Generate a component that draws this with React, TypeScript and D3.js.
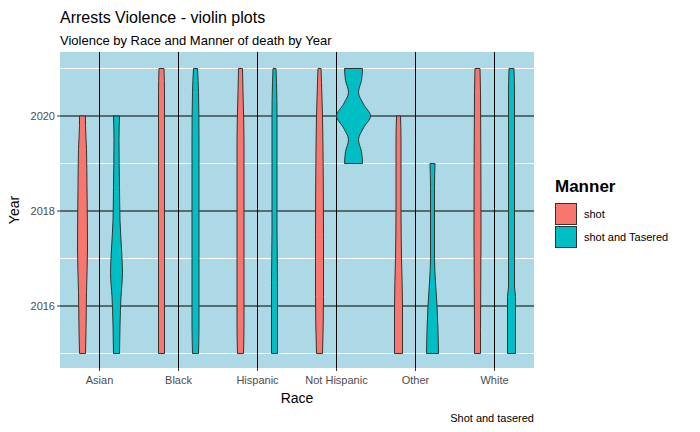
import * as d3 from 'd3';

const races = ['Asian', 'Black', 'Hispanic', 'Not Hispanic', 'Other', 'White'];
const manners = ['shot', 'shot and Tasered'];
const colors = ['#F8766D', '#00BFC4'];
const yearTicks = [2016, 2018, 2020];
const minorYears = [2015, 2017, 2019, 2021];

// [year, relative density] per race, per manner
const shotProfiles: [number, number][][] = [
  [[2015, 3], [2015.5, 3.5], [2016.3, 4], [2017.2, 5], [2018.5, 4.5], [2019.3, 4], [2019.8, 3], [2020, 3]],
  [[2015, 3], [2020.5, 3], [2021, 2.5]],
  [[2015, 3], [2015.6, 3.5], [2017, 3.5], [2019.5, 3.5], [2020.5, 2.5], [2021, 2]],
  [[2015, 3], [2016.2, 4], [2017.5, 4], [2019.3, 3.5], [2020, 3], [2020.7, 2], [2021, 1.5]],
  [[2015, 4], [2016, 4], [2017, 3], [2018, 2.5], [2019.5, 2.5], [2020, 2]],
  [[2015, 3], [2015.5, 3], [2017.5, 3.5], [2020.5, 3], [2021, 2.5]],
];
const taserProfiles: [number, number][][] = [
  [[2015, 3], [2015.6, 3.5], [2016.2, 4.5], [2016.7, 6], [2017.2, 5], [2017.8, 3.5], [2018.5, 3], [2019.5, 2.5], [2020, 3]],
  [[2015, 3], [2015.6, 3.5], [2017, 3.5], [2019.5, 3.5], [2020.5, 3], [2021, 2]],
  [[2015, 3], [2016.5, 3], [2017.6, 2.5], [2020, 2.5], [2020.7, 2], [2021, 1.5]],
  [[2019, 9], [2019.25, 8], [2019.5, 5], [2019.75, 10], [2020, 17], [2020.25, 10], [2020.5, 5], [2020.75, 8], [2021, 9]],
  [[2015, 6], [2015.5, 5.5], [2016, 4.5], [2016.5, 3], [2017, 2], [2018.5, 2], [2019, 2.5]],
  [[2015, 4], [2016.2, 4], [2016.4, 3], [2020.5, 3], [2021, 2.5]],
];

const W = 700, H = 432;
const m = { left: 60, right: 534, top: 52, bottom: 368 };

export default function App() {
  const x = d3.scaleBand().domain(races).range([m.left, m.right]).padding(0);
  const y = d3.scaleLinear().domain([2015.3, 2020.7]).range([339.25, 82.75]);
  const w = d3.scaleLinear().domain([0, 17]).range([0, 17]);
  const dodge = 17;

  const violin = (prof: [number, number][], cx: number) => {
    const area = d3.area<[number, number]>()
      .y(d => y(d[0]))
      .x0(d => cx - w(d[1]))
      .x1(d => cx + w(d[1]))
      .curve(d3.curveMonotoneY);
    return area(prof) || '';
  };

  return (
    <svg width={W} height={H} style={{ position: 'absolute', left: 0, top: 0, fontFamily: 'Arial, Liberation Sans, sans-serif' }}>
      <rect width={W} height={H} fill="white" />
      <rect x={m.left} y={m.top} width={m.right - m.left} height={m.bottom - m.top} fill="lightblue" />
      {minorYears.map(v => <line key={v} x1={m.left} x2={m.right} y1={y(v)} y2={y(v)} stroke="white" strokeWidth={1} />)}
      {yearTicks.map(v => <line key={v} x1={m.left} x2={m.right} y1={y(v)} y2={y(v)} stroke="black" strokeWidth={1} />)}
      {races.map(r => {
        const cx = x(r)! + x.bandwidth() / 2;
        return <line key={r} x1={cx} x2={cx} y1={m.top} y2={m.bottom} stroke="black" strokeWidth={1} />;
      })}
      {races.map((r, i) => {
        const cx = x(r)! + x.bandwidth() / 2;
        return (
          <g key={r}>
            <path d={violin(shotProfiles[i], cx - dodge)} fill={colors[0]} stroke="#333" strokeWidth={1} />
            <path d={violin(taserProfiles[i], cx + dodge)} fill={colors[1]} stroke="#333" strokeWidth={1} />
          </g>
        );
      })}
      {yearTicks.map(v => (
        <g key={v}>
          <line x1={m.left - 3} x2={m.left} y1={y(v)} y2={y(v)} stroke="#333" />
          <text x={m.left - 5} y={y(v) + 4} fontSize={11} fill="#4d4d4d" textAnchor="end">{v}</text>
        </g>
      ))}
      {races.map(r => {
        const cx = x(r)! + x.bandwidth() / 2;
        return (
          <g key={r}>
            <line x1={cx} x2={cx} y1={m.bottom} y2={m.bottom + 3} stroke="#333" />
            <text x={cx} y={m.bottom + 16} fontSize={11} fill="#4d4d4d" textAnchor="middle">{r}</text>
          </g>
        );
      })}
      <text x={(m.left + m.right) / 2} y={403} fontSize={14} textAnchor="middle">Race</text>
      <text transform={`translate(19,${(m.top + m.bottom) / 2}) rotate(-90)`} fontSize={14} textAnchor="middle">Year</text>
      <text x={60} y={23} fontSize={16}>Arrests Violence - violin plots</text>
      <text x={60} y={45} fontSize={13}>Violence by Race and Manner of death by Year</text>
      <text x={534} y={422} fontSize={11} textAnchor="end">Shot and tasered</text>
      <text x={555} y={192} fontSize={17} fontWeight="bold">Manner</text>
      {manners.map((mn, i) => (
        <g key={mn} transform={`translate(555,${203 + i * 23})`}>
          <rect x={0.5} y={0.5} width={21} height={21} fill={colors[i]} stroke="#333" />
          <text x={29} y={15} fontSize={11}>{mn}</text>
        </g>
      ))}
    </svg>
  );
}
